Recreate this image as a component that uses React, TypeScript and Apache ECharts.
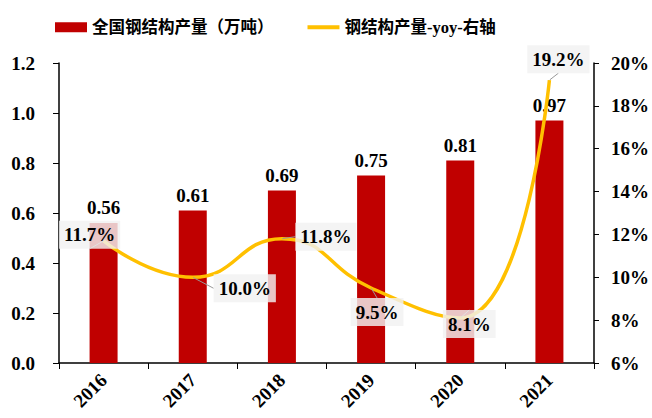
import React, { useEffect, useRef } from "react";
import * as echarts from "echarts";

const categories = ["2016", "2017", "2018", "2019", "2020", "2021"];
const outputValues = [0.56, 0.61, 0.69, 0.75, 0.81, 0.97];
const yoyValues = [11.7, 10.0, 11.8, 9.5, 8.1, 19.2];
const barName = "全国钢结构产量（万吨）";
const lineName = "钢结构产量-yoy-右轴";
const labelOffsets: [number, number][] = [
  [-14, -6],
  [52, 11],
  [44, -2],
  [6, 24],
  [9, 6],
  [9, -21],
];

const FONT = "'Times New Roman', 'Liberation Serif', 'Noto Sans CJK SC', serif";

export default function App() {
  const ref = useRef<HTMLDivElement>(null);
  useEffect(() => {
    if (!ref.current) return;
    const chart = echarts.init(ref.current, null, { renderer: "svg" });
    chart.setOption({
      animation: false,
      backgroundColor: "#ffffff",
      textStyle: { fontFamily: FONT },
      legend: {
        top: 14,
        left: 50,
        itemWidth: 32,
        itemHeight: 10,
        itemGap: 34,
        textStyle: { fontFamily: FONT, fontWeight: "bold", fontSize: 16.5, color: "#000" },
        data: [
          { name: barName, icon: "rect" },
          {
            name: lineName,
            icon: "path://M0,3h32v4h-32z M0,0h0.01v0.01h-0.01z M0,10h0.01v0.01h-0.01z",
            itemStyle: { color: "#FFC000", opacity: 1 },
          },
        ],
      },
      grid: { left: 59, right: 57, top: 63, bottom: 55 },
      xAxis: {
        type: "category",
        data: categories,
        axisLine: { lineStyle: { color: "#000", width: 1.5 } },
        axisTick: { show: true, length: 6, lineStyle: { color: "#000" } },
        axisLabel: {
          rotate: 45,
          color: "#000",
          fontWeight: "bold",
          fontSize: 19,
          fontFamily: FONT,
          margin: 14,
        },
      },
      yAxis: [
        {
          type: "value",
          min: 0,
          max: 1.2,
          interval: 0.2,
          splitLine: { show: false },
          axisLine: { show: true, lineStyle: { color: "#000", width: 1.5 } },
          axisTick: { show: true, length: 6, lineStyle: { color: "#000" } },
          axisLabel: {
            color: "#000",
            fontWeight: "bold",
            fontSize: 19,
            fontFamily: FONT,
            margin: 24,
            formatter: (v: number) => v.toFixed(1),
          },
        },
        {
          type: "value",
          min: 6,
          max: 20,
          interval: 2,
          splitLine: { show: false },
          axisLine: { show: true, lineStyle: { color: "#000", width: 1.5 } },
          axisTick: { show: true, length: 5, lineStyle: { color: "#000" } },
          axisLabel: {
            color: "#000",
            fontWeight: "bold",
            fontSize: 19,
            fontFamily: FONT,
            margin: 17,
            formatter: (v: number) => `${v}%`,
          },
        },
      ],
      series: [
        {
          name: barName,
          type: "bar",
          data: outputValues,
          barWidth: 28,
          itemStyle: { color: "#C00000" },
          label: {
            show: true,
            position: "top",
            distance: 6,
            color: "#000",
            fontWeight: "bold",
            fontSize: 19,
            fontFamily: FONT,
            formatter: (p: any) => p.value.toFixed(2),
          },
        },
        {
          name: lineName,
          type: "line",
          yAxisIndex: 1,
          data: yoyValues,
          smooth: 0.5,
          symbol: "circle",
          symbolSize: 1,
          showSymbol: true,
          itemStyle: { color: "rgba(255,192,0,0)" },
          lineStyle: { color: "#FFC000", width: 3.5 },
          z: 5,
          label: {
            show: true,
            position: "inside",
            color: "#000",
            fontWeight: "bold",
            fontSize: 19,
            fontFamily: FONT,
            backgroundColor: "rgba(242,242,242,0.82)",
            padding: [5, 5, 4, 5],
            formatter: (p: any) => `${p.value.toFixed(1)}%`,
          },
          labelLine: { show: true, lineStyle: { color: "#999", width: 1 } },
          labelLayout: (params: any) => {
            const o = labelOffsets[params.dataIndex] || [0, 0];
            return { dx: o[0], dy: o[1] };
          },
        },
      ],
    });
    return () => chart.dispose();
  }, []);
  return (
    <div
      ref={ref}
      style={{ position: "fixed", left: 0, top: 0, width: 652, height: 418 }}
    />
  );
}
